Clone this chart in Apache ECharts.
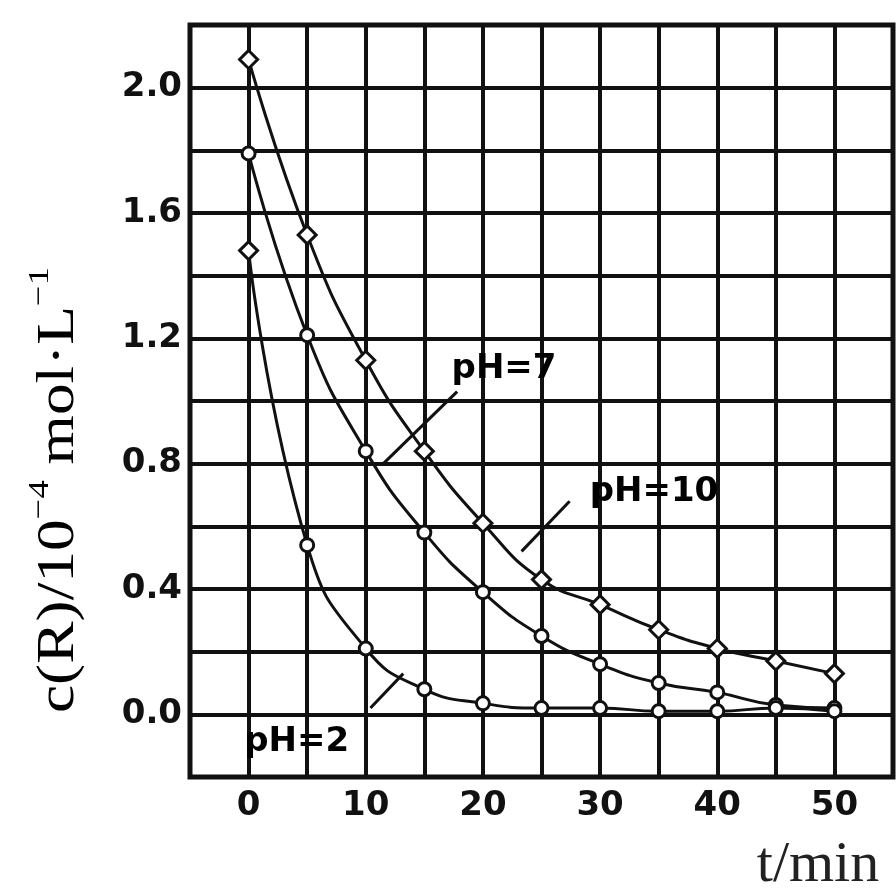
<!DOCTYPE html>
<html>
<head>
<meta charset="utf-8">
<script src="https://cdn.jsdelivr.net/npm/echarts@6/dist/echarts.min.js"></script>
<style>html,body{margin:0;padding:0;background:#fff;}#c{width:896px;height:893px;}</style>
</head>
<body>
<div id="c"></div>
<script>
// time points (min)
const tMin = [0, 5, 10, 15, 20, 25, 30, 35, 40, 45, 50];
// c(R) / 1e-4 mol/L
const pH7  = [2.09, 1.53, 1.13, 0.84, 0.61, 0.43, 0.35, 0.27, 0.21, 0.17, 0.13];
const pH10 = [1.79, 1.21, 0.84, 0.58, 0.39, 0.25, 0.16, 0.10, 0.07, 0.03, 0.02];
const pH2  = [1.48, 0.54, 0.21, 0.08, 0.035, 0.02, 0.02, 0.01, 0.01, 0.02, 0.01];
// tick labels
const xTickLabels = ['0', '10', '20', '30', '40', '50'];
const yTickLabels = ['0.0', '0.4', '0.8', '1.2', '1.6', '2.0'];
// curve annotations: label text, label anchor [t, c], leader line from/to
const annotations = [
  { text: 'pH=7',  at: [21.8, 1.10], from: [11.5, 0.80], to: [17.8, 1.03] },
  { text: 'pH=10', at: [34.6, 0.71], from: [23.3, 0.52], to: [27.4, 0.68] },
  { text: 'pH=2',  at: [4.1, -0.09], from: [10.4, 0.02], to: [13.2, 0.13] }
];

const chart = echarts.init(document.getElementById('c'));
const blk = '#111';

function mkData(vals, firstSymbol) {
  return vals.map((v, i) => {
    const d = { value: [tMin[i], v] };
    if (i === 0 && firstSymbol) { d.symbol = firstSymbol; d.symbolSize = [18, 18]; }
    return d;
  });
}
function curve(name, vals, symbol, size, firstSymbol) {
  return {
    name: name, type: 'line', data: mkData(vals, firstSymbol),
    smooth: 0.5,
    symbol: symbol, symbolSize: size, showAllSymbol: true,
    lineStyle: { color: blk, width: 3 },
    itemStyle: { color: '#fff', borderColor: blk, borderWidth: 3 },
    z: 5
  };
}

const labelFont = { fontFamily: 'DejaVu Sans', fontWeight: 'bold', fontSize: 34, color: blk };

const option = {
  backgroundColor: '#fff',
  animation: false,
  grid: { left: 190, right: 3, top: 25, bottom: 116, show: true, borderColor: blk, borderWidth: 5, backgroundColor: 'transparent', z: 10 },
  xAxis: {
    type: 'value', min: -5, max: 55, interval: 5,
    axisLine: { show: false }, axisTick: { show: false },
    splitLine: { show: true, lineStyle: { color: blk, width: 4 } },
    axisLabel: {
      margin: 12, ...labelFont,
      formatter: v => { const s = String(Math.round(v)); return xTickLabels.indexOf(s) >= 0 ? s : ''; }
    }
  },
  yAxis: {
    type: 'value', min: -0.2, max: 2.2, interval: 0.2,
    axisLine: { show: false }, axisTick: { show: false },
    splitLine: { show: true, lineStyle: { color: blk, width: 4 } },
    axisLabel: {
      margin: 8, ...labelFont,
      formatter: v => { const s = (Math.round(v * 10) / 10).toFixed(1); return yTickLabels.indexOf(s) >= 0 ? s : ''; }
    }
  },
  graphic: [
    {
      type: 'text', x: 55, y: 490, rotation: Math.PI / 2, scaleX: 1.22, z: 20,
      style: {
        text: '{n|c(R)/10}{s|−4}{n| mol·L}{s|−1}',
        align: 'center', verticalAlign: 'middle',
        rich: {
          n: { fontFamily: 'Liberation Serif', fontSize: 52, color: '#222', lineHeight: 60, verticalAlign: 'bottom' },
          s: { fontFamily: 'Liberation Serif', fontSize: 30, color: '#222', lineHeight: 60, verticalAlign: 'top', padding: [0, 0, 22, 0] }
        }
      }
    },
    {
      type: 'text', x: 818, y: 866, z: 20,
      style: { text: 't/min', align: 'center', verticalAlign: 'middle', fontFamily: 'Liberation Serif', fontSize: 58, fill: '#222' }
    }
  ],
  series: [
    curve('pH=7', pH7, 'diamond', [18, 18]),
    curve('pH=10', pH10, 'circle', 13),
    curve('pH=2', pH2, 'circle', 13, 'diamond'),
    {
      name: 'annotations', type: 'scatter', symbolSize: 0, z: 8,
      itemStyle: { opacity: 1, color: '#000' },
      data: annotations.map(a => ({ value: a.at, name: a.text })),
      label: { show: true, position: 'inside', formatter: p => p.name, ...labelFont, color: '#000', fontSize: 34 },
      markLine: {
        silent: true, symbol: 'none', animation: false,
        lineStyle: { color: blk, width: 3, type: 'solid', opacity: 1 },
        label: { show: false },
        data: annotations.map(a => [{ coord: a.from }, { coord: a.to }])
      }
    }
  ]
};
chart.setOption(option);
</script>
</body>
</html>
